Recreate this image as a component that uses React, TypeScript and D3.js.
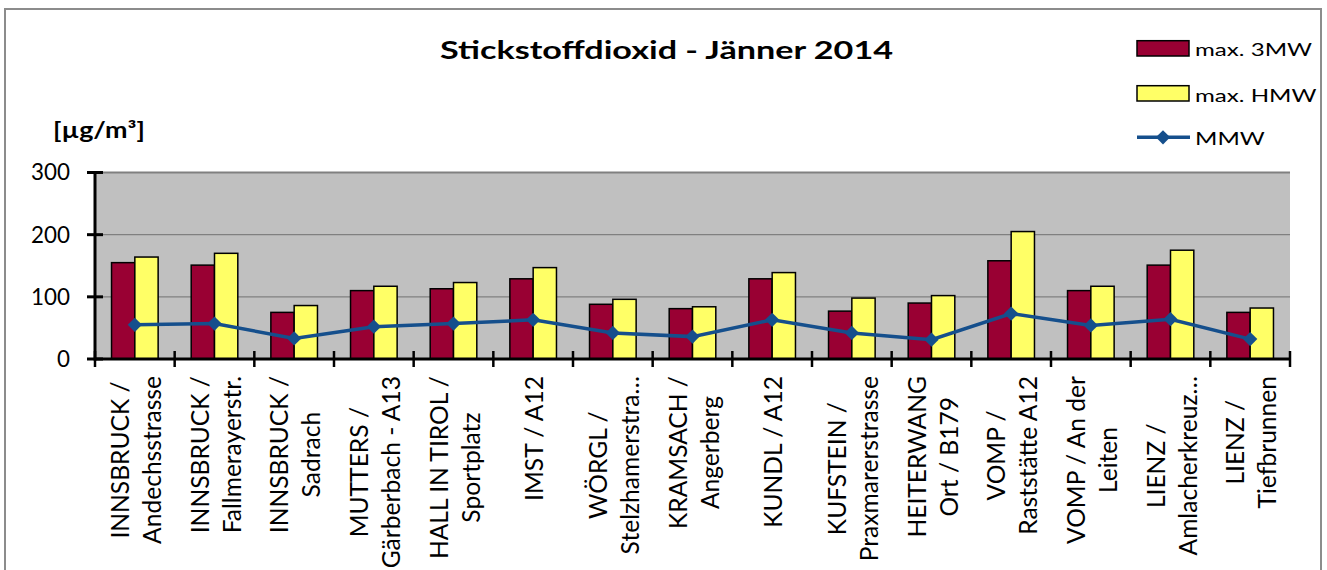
import React, { useEffect, useRef } from "react";
import * as d3 from "d3";

const stations: string[][] = [
  ["INNSBRUCK /", "Andechsstrasse"],
  ["INNSBRUCK /", "Fallmerayerstr."],
  ["INNSBRUCK /", "Sadrach"],
  ["MUTTERS /", "Gärberbach - A13"],
  ["HALL IN TIROL /", "Sportplatz"],
  ["IMST / A12"],
  ["WÖRGL /", "Stelzhamerstra…"],
  ["KRAMSACH /", "Angerberg"],
  ["KUNDL / A12"],
  ["KUFSTEIN /", "Praxmarerstrasse"],
  ["HEITERWANG", "Ort / B179"],
  ["VOMP /", "Raststätte A12"],
  ["VOMP / An der", "Leiten"],
  ["LIENZ /", "Amlacherkreuz…"],
  ["LIENZ /", "Tiefbrunnen"],
];
const max3MW = [155, 151, 75, 110, 113, 129, 88, 81, 129, 77, 90, 158, 110, 151, 75];
const maxHMW = [164, 170, 86, 117, 123, 147, 96, 84, 139, 98, 102, 205, 117, 175, 82];
const mmw = [55, 57, 33, 52, 57, 63, 42, 36, 63, 42, 31, 73, 54, 64, 32];
const yTicks = [0, 100, 200, 300];
const seriesNames = ["max. 3MW", "max. HMW", "MMW"];
const titleText = "Stickstoffdioxid - Jänner 2014";
const unitText = "[µg/m³]";

const FONT = "Lato, 'Open Sans', sans-serif";
const C_3MW = "#990033";
const C_HMW = "#FFFF66";
const C_LINE = "#154F8C";

export default function App() {
  const ref = useRef<SVGSVGElement>(null);
  useEffect(() => {
    const svg = d3.select(ref.current as SVGSVGElement);
    svg.selectAll("*").remove();
    svg.attr("font-family", FONT);

    const measure = (txt: string, size: number, weight = "normal") => {
      const t = svg.append("text").attr("font-size", size).attr("font-weight", weight).text(txt);
      const l = (t.node() as SVGTextElement).getComputedTextLength();
      t.remove();
      return l;
    };

    const L = 95, R = 1290, T = 172.5, B = 359;
    const keys = stations.map((_, i) => String(i));
    const x = d3.scaleBand<string>().domain(keys).range([L, R]).padding(0);
    const bw = x.bandwidth();
    const groupW = bw * 0.585;
    const xs = d3.scaleBand<string>().domain(["a", "b"]).range([0, groupW]).padding(0);
    const y = d3.scaleLinear().domain([0, 300]).range([B, T]);

    // outer border
    svg.append("rect").attr("x", 5).attr("y", 9).attr("width", 1316).attr("height", 580)
      .attr("fill", "#fff").attr("stroke", "#8c8c8c").attr("stroke-width", 2);

    // plot background
    svg.append("rect").attr("x", L).attr("y", T).attr("width", R - L).attr("height", B - T).attr("fill", "#C0C0C0");

    // gridlines
    svg.append("g").selectAll("line").data(yTicks.filter((d) => d > 0)).join("line")
      .attr("x1", L).attr("x2", R).attr("y1", (d) => y(d)).attr("y2", (d) => y(d))
      .attr("stroke", "#808080").attr("stroke-width", (d) => (d === 300 ? 2 : 1.2));

    // bars
    const g = svg.append("g");
    g.selectAll("rect.a").data(max3MW).join("rect").attr("class", "a")
      .attr("x", (_, i) => (x(keys[i]) as number) + (bw - groupW) / 2 + (xs("a") as number))
      .attr("y", (d) => y(d)).attr("width", xs.bandwidth()).attr("height", (d) => B - y(d))
      .attr("fill", C_3MW).attr("stroke", "#000").attr("stroke-width", 1.5);
    g.selectAll("rect.b").data(maxHMW).join("rect").attr("class", "b")
      .attr("x", (_, i) => (x(keys[i]) as number) + (bw - groupW) / 2 + (xs("b") as number))
      .attr("y", (d) => y(d)).attr("width", xs.bandwidth()).attr("height", (d) => B - y(d))
      .attr("fill", C_HMW).attr("stroke", "#000").attr("stroke-width", 1.5);

    // axes
    svg.append("line").attr("x1", L).attr("x2", L).attr("y1", T).attr("y2", B + 1.5)
      .attr("stroke", "#000").attr("stroke-width", 3);
    svg.append("g").selectAll("line").data(yTicks).join("line")
      .attr("x1", L - 8).attr("x2", L + 8).attr("y1", (d) => y(d)).attr("y2", (d) => y(d))
      .attr("stroke", "#000").attr("stroke-width", 3);
    svg.append("line").attr("x1", L).attr("x2", R).attr("y1", B).attr("y2", B)
      .attr("stroke", "#000").attr("stroke-width", 3);
    const bounds = keys.map((k) => x(k) as number).concat([R]);
    svg.append("g").selectAll("line").data(bounds).join("line")
      .attr("x1", (d) => d).attr("x2", (d) => d).attr("y1", B - 8).attr("y2", B + 8)
      .attr("stroke", "#000").attr("stroke-width", 2.5);

    // MMW line
    const cx = (i: number) => (x(keys[i]) as number) + bw / 2;
    const line = d3.line<number>().x((_, i) => cx(i)).y((d) => y(d));
    svg.append("path").datum(mmw).attr("d", line).attr("fill", "none")
      .attr("stroke", C_LINE).attr("stroke-width", 3.5);
    const diamond = d3.symbol().type(d3.symbolDiamond2).size(130);
    svg.append("g").selectAll("path").data(mmw).join("path")
      .attr("d", diamond).attr("transform", (d, i) => `translate(${cx(i)},${y(d)})`)
      .attr("fill", C_LINE);

    // y tick labels
    const tickFs = 23 * 39 / measure("300", 23);
    svg.append("g").selectAll("text").data(yTicks).join("text")
      .attr("x", 70).attr("y", (d) => y(d)).attr("dy", "0.35em").attr("text-anchor", "end")
      .attr("font-size", tickFs).attr("fill", "#000").text((d) => String(d));

    // x labels
    const labFs = 24 * 168 / measure("Andechsstrasse", 24);
    const capH = labFs * 0.717;
    stations.forEach((lines, i) => {
      const grp = svg.append("g").attr("transform", `translate(${cx(i) + 1.5},376) rotate(-90)`);
      const lens = lines.map((s) => measure(s, labFs));
      const maxLen = d3.max(lens) as number;
      const n = lines.length;
      lines.forEach((s, j) => {
        const mid = (j - (n - 1) / 2) * 32;
        grp.append("text").attr("x", -maxLen / 2).attr("y", mid + capH / 2)
          .attr("text-anchor", "middle").attr("font-size", labFs).attr("fill", "#000").text(s);
      });
    });

    // title
    svg.append("text").attr("x", 666.5).attr("y", 59.3).attr("text-anchor", "middle")
      .attr("font-size", 24.7).attr("font-weight", "bold").attr("textLength", 453)
      .attr("lengthAdjust", "spacingAndGlyphs").attr("fill", "#000").text(titleText);

    // unit
    svg.append("text").attr("x", 53).attr("y", 138).attr("font-size", 22).attr("font-weight", "bold")
      .attr("textLength", 92).attr("lengthAdjust", "spacingAndGlyphs").attr("fill", "#000").text(unitText);

    // legend
    const legFs = 17.7;
    const sx = 117 / measure(seriesNames[0], legFs);
    const lg = svg.append("g");
    lg.append("rect").attr("x", 1137).attr("y", 40.7).attr("width", 52).attr("height", 15.3)
      .attr("fill", C_3MW).attr("stroke", "#000").attr("stroke-width", 1.5);
    lg.append("rect").attr("x", 1137).attr("y", 85.7).attr("width", 52).attr("height", 15.3)
      .attr("fill", C_HMW).attr("stroke", "#000").attr("stroke-width", 1.5);
    lg.append("line").attr("x1", 1137).attr("x2", 1190).attr("y1", 137.3).attr("y2", 137.3)
      .attr("stroke", C_LINE).attr("stroke-width", 3.5);
    lg.append("path").attr("d", diamond).attr("transform", "translate(1163,137.3)").attr("fill", C_LINE);
    const baselines = [56, 101.5, 145];
    seriesNames.forEach((s, i) => {
      lg.append("text").attr("transform", `translate(1195,${baselines[i]}) scale(${sx},1)`)
        .attr("font-size", legFs).attr("fill", "#000").text(s);
    });
  }, []);
  return (
    <svg ref={ref} width={1327} height={570}
      style={{ position: "absolute", left: 0, top: 0, background: "#fff" }} />
  );
}
